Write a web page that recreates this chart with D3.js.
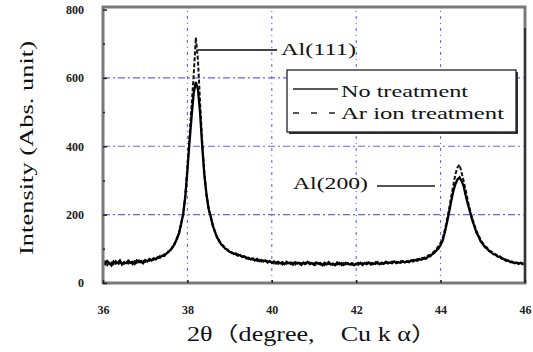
<!DOCTYPE html>
<html><head><meta charset="utf-8">
<script src="https://cdn.jsdelivr.net/npm/d3@7"></script>
<style>body{margin:0;background:#fff}svg{display:block}</style>
</head><body>
<svg id="c" width="533" height="352"></svg>
<script>
// 2θ sampling positions (degree)
const twoTheta = [
36.00,36.05,36.10,36.15,36.20,36.25,36.30,36.35,36.40,36.45,36.50,36.55,36.60,36.65,36.70,36.75,36.80,36.85,36.90,36.95,
37.00,37.05,37.10,37.15,37.20,37.25,37.30,37.35,37.40,37.45,37.50,37.55,37.60,37.65,37.70,37.75,37.80,37.85,37.90,37.95,
38.00,38.05,38.10,38.15,38.20,38.25,38.30,38.35,38.40,38.45,38.50,38.55,38.60,38.65,38.70,38.75,38.80,38.85,38.90,38.95,
39.00,39.05,39.10,39.15,39.20,39.25,39.30,39.35,39.40,39.45,39.50,39.55,39.60,39.65,39.70,39.75,39.80,39.85,39.90,39.95,
40.00,40.05,40.10,40.15,40.20,40.25,40.30,40.35,40.40,40.45,40.50,40.55,40.60,40.65,40.70,40.75,40.80,40.85,40.90,40.95,
41.00,41.05,41.10,41.15,41.20,41.25,41.30,41.35,41.40,41.45,41.50,41.55,41.60,41.65,41.70,41.75,41.80,41.85,41.90,41.95,
42.00,42.05,42.10,42.15,42.20,42.25,42.30,42.35,42.40,42.45,42.50,42.55,42.60,42.65,42.70,42.75,42.80,42.85,42.90,42.95,
43.00,43.05,43.10,43.15,43.20,43.25,43.30,43.35,43.40,43.45,43.50,43.55,43.60,43.65,43.70,43.75,43.80,43.85,43.90,43.95,
44.00,44.05,44.10,44.15,44.20,44.25,44.30,44.35,44.40,44.45,44.50,44.55,44.60,44.65,44.70,44.75,44.80,44.85,44.90,44.95,
45.00,45.05,45.10,45.15,45.20,45.25,45.30,45.35,45.40,45.45,45.50,45.55,45.60,45.65,45.70,45.75,45.80,45.85,45.90,45.95,
46.00];

// "No treatment" intensities
const noTreatment = [
62,55,64,58,51,63,57,60,66,54,61,58,65,59,62,56,66,61,64,58,
67,63,70,66,72,69,76,74,80,79,86,90,97,104,116,128,146,171,202,252,
328,412,488,556,588,566,498,402,318,262,218,196,168,152,133,125,113,109,100,98,
91,90,85,86,80,82,76,78,72,74,69,72,66,70,64,67,63,66,60,64,
59,63,57,62,58,61,55,62,58,60,54,61,57,59,53,60,56,62,55,58,
53,60,56,58,52,59,55,61,54,57,52,60,55,58,53,59,56,54,58,52,
57,54,59,53,58,55,60,54,58,56,61,55,59,56,62,57,60,58,63,58,
61,59,64,60,63,61,66,63,67,65,70,68,72,71,77,78,84,88,95,101,
112,124,148,176,206,238,268,289,303,309,298,281,253,229,207,184,166,147,136,122,
114,105,101,93,90,84,83,77,77,71,70,65,66,61,62,58,60,56,59,55,
57];

// "Ar ion treatment" intensities
const arIonTreatment = [
58,63,52,61,60,55,64,53,59,62,56,64,57,63,55,64,59,66,60,65,
62,68,65,71,68,74,72,79,77,84,83,93,94,108,113,132,143,176,198,258,
340,430,520,610,718,652,530,415,326,258,222,192,172,149,137,121,116,106,103,95,
93,87,88,83,84,78,79,74,75,70,73,68,70,65,68,63,66,61,64,59,
62,57,61,56,60,54,59,56,61,55,59,54,60,55,58,52,59,55,60,54,
58,53,59,54,57,52,58,55,60,53,57,54,59,52,58,54,59,57,53,58,
54,59,55,58,54,60,56,59,55,61,57,60,56,62,58,61,57,63,59,62,
60,64,61,65,62,66,64,68,66,70,69,73,74,76,80,83,87,93,99,108,
118,132,155,184,215,252,285,318,338,346,322,296,268,238,212,190,170,152,139,126,
117,109,103,96,92,87,84,80,78,74,71,68,65,64,60,61,58,59,55,58,
54];

const xTicks = [36,38,40,42,44,46];
const yTicks = [0,200,400,600,800];
const yMinorTicks = [100,300,500,700];
const xGrid = [38,40,42,44];
const yGrid = [200,400,600];
const legendLabels = ["No treatment","Ar ion treatment"];
const peakLabels = ["Al(111)","Al(200)"];

const svg = d3.select("#c");
const x = d3.scaleLinear().domain([36,46]).range([103,525]);
const y = d3.scaleLinear().domain([0,800]).range([283,9.5]);
const serif = "'Liberation Serif','Noto Sans CJK JP',serif";

svg.append("rect").attr("width",533).attr("height",352).attr("fill","#fff");

// grid
const grid = svg.append("g").attr("stroke","#6464ff").attr("stroke-width",1.1).attr("fill","none");
grid.selectAll("line.h").data(yGrid).join("line").attr("class","h")
  .attr("x1",x(36)).attr("x2",x(46)).attr("y1",d=>y(d)).attr("y2",d=>y(d))
  .attr("stroke-dasharray","7,3,2,3");
grid.selectAll("line.v").data(xGrid).join("line").attr("class","v")
  .attr("x1",d=>x(d)).attr("x2",d=>x(d)).attr("y1",y(0)).attr("y2",7)
  .attr("stroke-dasharray","3,4,1,4");

// data lines
const line = d3.line().x((d,i)=>x(twoTheta[i])).y(d=>y(d));
svg.append("path").datum(arIonTreatment).attr("d",line)
  .attr("fill","none").attr("stroke","#111").attr("stroke-width",2)
  .attr("stroke-dasharray","4,2");
svg.append("path").datum(noTreatment).attr("d",line)
  .attr("fill","none").attr("stroke","#000").attr("stroke-width",2.3);

// frame
svg.append("rect").attr("x",x(36)).attr("y",7).attr("width",x(46)-x(36)).attr("height",y(0)-7)
  .attr("fill","none").attr("stroke","#7a7a7a").attr("stroke-width",3);
svg.append("line").attr("x1",x(46)).attr("x2",x(46)).attr("y1",28).attr("y2",y(0))
  .attr("stroke","#333").attr("stroke-width",2);

// axes
const yAxis = svg.append("g").attr("transform",`translate(${x(36)},0)`)
  .call(d3.axisLeft(y).tickValues(yTicks).tickSize(-4).tickPadding(19));
const yMinor = svg.append("g").attr("transform",`translate(${x(36)},0)`)
  .call(d3.axisLeft(y).tickValues(yMinorTicks).tickSize(-2).tickFormat(""));
const xAxis = svg.append("g").attr("transform",`translate(0,${y(0)})`)
  .call(d3.axisBottom(x).tickValues(xTicks).tickSize(-3).tickPadding(22));
[yAxis,yMinor,xAxis].forEach(g=>{
  g.select(".domain").remove();
  g.selectAll(".tick line").attr("stroke","#222").attr("stroke-width",1.5);
  g.selectAll("text").attr("font-family",serif).attr("font-size",12).attr("font-weight","bold").attr("fill","#222");
});

// axis titles
svg.append("text").attr("transform","translate(33,148) rotate(-90)")
  .attr("text-anchor","middle").attr("font-family",serif).attr("font-size",18).attr("fill","#111")
  .attr("textLength",214).attr("lengthAdjust","spacingAndGlyphs")
  .text("Intensity (Abs. unit)");
svg.append("text").attr("x",312).attr("y",341)
  .attr("text-anchor","middle").attr("font-family",serif).attr("font-size",20).attr("fill","#111")
  .attr("textLength",250).attr("lengthAdjust","spacingAndGlyphs")
  .text("2θ（degree,\u3000Cu k α）");

// peak annotations
svg.append("line").attr("x1",x(38.2)+1).attr("x2",277).attr("y1",50).attr("y2",50)
  .attr("stroke","#444").attr("stroke-width",1.8);
svg.append("text").attr("x",281).attr("y",55).attr("font-family",serif).attr("font-size",16)
  .attr("fill","#111").attr("textLength",75).attr("lengthAdjust","spacingAndGlyphs").text(peakLabels[0]);
svg.append("text").attr("x",293).attr("y",189).attr("font-family",serif).attr("font-size",16)
  .attr("fill","#111").attr("textLength",75).attr("lengthAdjust","spacingAndGlyphs").text(peakLabels[1]);
svg.append("line").attr("x1",377).attr("x2",435).attr("y1",186).attr("y2",186)
  .attr("stroke","#555").attr("stroke-width",1.8);

// legend
svg.append("rect").attr("x",289).attr("y",72).attr("width",229).attr("height",62).attr("fill","#333");
svg.append("rect").attr("x",287).attr("y",70).attr("width",229).attr("height",62)
  .attr("fill","#fff").attr("stroke","#222").attr("stroke-width",1.3);
svg.append("line").attr("x1",293).attr("x2",338).attr("y1",89).attr("y2",89)
  .attr("stroke","#222").attr("stroke-width",1.6);
svg.append("line").attr("x1",293).attr("x2",338).attr("y1",113).attr("y2",113)
  .attr("stroke","#222").attr("stroke-width",1.6).attr("stroke-dasharray","6,12");
svg.append("text").attr("x",341).attr("y",97).attr("font-family",serif).attr("font-size",16)
  .attr("fill","#111").attr("textLength",127).attr("lengthAdjust","spacingAndGlyphs").text(legendLabels[0]);
svg.append("text").attr("x",341).attr("y",119).attr("font-family",serif).attr("font-size",16)
  .attr("fill","#111").attr("textLength",163).attr("lengthAdjust","spacingAndGlyphs").text(legendLabels[1]);
</script>
</body></html>
